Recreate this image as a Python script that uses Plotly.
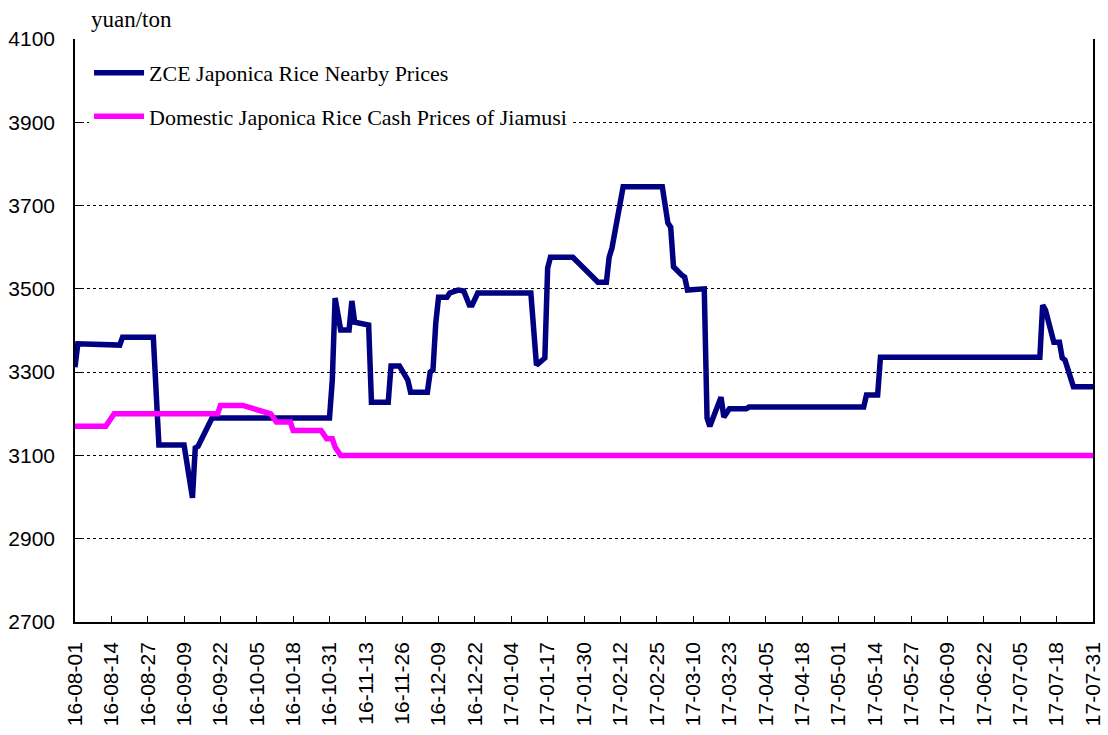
import plotly.graph_objects as go
import pandas as pd

# ZCE Japonica Rice Nearby Prices (yuan/ton)
zce_dates = [
    "2016-08-01", "2016-08-02", "2016-08-17", "2016-08-18", "2016-08-29", "2016-08-31",
    "2016-09-09", "2016-09-12", "2016-09-13", "2016-09-14", "2016-09-19", "2016-10-31",
    "2016-11-01", "2016-11-02", "2016-11-04", "2016-11-07", "2016-11-08", "2016-11-09",
    "2016-11-14", "2016-11-15", "2016-11-21", "2016-11-22", "2016-11-25", "2016-11-28",
    "2016-11-29", "2016-12-05", "2016-12-06", "2016-12-07", "2016-12-08", "2016-12-09",
    "2016-12-12", "2016-12-13", "2016-12-16", "2016-12-18", "2016-12-20", "2016-12-21",
    "2016-12-23", "2017-01-11", "2017-01-13", "2017-01-16", "2017-01-17", "2017-01-18",
    "2017-01-26", "2017-02-04", "2017-02-07", "2017-02-08", "2017-02-09", "2017-02-13",
    "2017-02-27", "2017-03-01", "2017-03-02", "2017-03-03", "2017-03-06", "2017-03-07",
    "2017-03-08", "2017-03-14", "2017-03-15", "2017-03-16", "2017-03-20", "2017-03-21",
    "2017-03-23", "2017-03-29", "2017-03-30", "2017-05-10", "2017-05-11", "2017-05-15",
    "2017-05-16", "2017-07-12", "2017-07-13", "2017-07-14", "2017-07-17", "2017-07-19",
    "2017-07-20", "2017-07-21", "2017-07-24", "2017-07-31",
]
zce_values = [
    3312, 3368, 3365, 3384, 3384, 3125,
    3125, 2998, 3118, 3122, 3190, 3190,
    3281, 3478, 3401, 3401, 3471, 3420,
    3413, 3228, 3228, 3315, 3315, 3281,
    3252, 3252, 3300, 3305, 3418, 3480,
    3480, 3490, 3497, 3495, 3461, 3461,
    3490, 3490, 3317, 3334, 3550, 3576,
    3576, 3516, 3516, 3576, 3598, 3745,
    3745, 3658, 3648, 3553, 3533, 3528,
    3497, 3500, 3190, 3170, 3240, 3192,
    3212, 3212, 3216, 3216, 3245, 3245,
    3336, 3336, 3461, 3449, 3372, 3372,
    3334, 3329, 3265, 3265,
]

# Domestic Japonica Rice Cash Prices of Jiamusi (yuan/ton)
cash_dates = [
    "2016-08-01", "2016-08-12", "2016-08-15", "2016-09-21", "2016-09-22", "2016-09-30",
    "2016-10-10", "2016-10-12", "2016-10-17", "2016-10-18", "2016-10-28", "2016-10-30",
    "2016-11-01", "2016-11-02", "2016-11-04", "2017-07-31",
]
cash_values = [
    3170, 3170, 3200, 3200, 3220, 3220,
    3200, 3180, 3180, 3160, 3160, 3140,
    3140, 3120, 3100, 3100,
]

series_names = [
    "ZCE Japonica Rice Nearby Prices",
    "Domestic Japonica Rice Cash Prices of Jiamusi",
]

tick_dates = pd.date_range("2016-08-01", "2017-07-31", freq="13D")
tick_labels = [d.strftime("%y-%m-%d") for d in tick_dates]
y_ticks = [2700, 2900, 3100, 3300, 3500, 3700, 3900, 4100]

fig = go.Figure()
fig.add_trace(go.Scatter(
    x=zce_dates, y=zce_values, mode="lines", name=series_names[0],
    legendgroup="a", line=dict(color="#000080", width=5.5),
))
fig.add_trace(go.Scatter(
    x=cash_dates, y=cash_values, mode="lines", name=series_names[1],
    legendgroup="b", line=dict(color="#FF00FF", width=5.5),
))

fig.update_layout(
    width=1108, height=735,
    margin=dict(l=75, r=15, t=39, b=113),
    paper_bgcolor="white", plot_bgcolor="white",
    showlegend=True,
    legend=dict(
        x=0.0138, y=0.978, xanchor="left", yanchor="top",
        bgcolor="white", borderwidth=0,
        font=dict(family="Liberation Serif", size=22, color="black"),
        itemwidth=50, traceorder="grouped", tracegroupgap=12,
    ),
    annotations=[dict(
        text="yuan/ton", xref="paper", yref="paper",
        x=(89 - 75) / 1018, y=1 + (39 - 19) / 583,
        xanchor="left", yanchor="middle", showarrow=False,
        font=dict(family="Liberation Serif", size=23, color="black"),
    )],
)

fig.update_xaxes(
    range=["2016-08-01", "2017-07-31"],
    tickmode="array", tickvals=tick_dates, ticktext=tick_labels,
    tickangle=-90, ticks="inside", ticklen=6, tickcolor="black",
    tickfont=dict(family="Liberation Sans", size=21, color="black"),
    showline=True, linecolor="black", linewidth=1.5,
    showgrid=False, zeroline=False, automargin=False,
    ticklabelstandoff=10,
)
fig.update_yaxes(
    range=[2700, 4100],
    tickmode="array", tickvals=y_ticks,
    ticks="inside", ticklen=6, tickcolor="black",
    tickfont=dict(family="Liberation Sans", size=21, color="black"),
    showline=True, linecolor="black", linewidth=1.5, mirror=True,
    showgrid=True, gridcolor="black", gridwidth=1, griddash="dot",
    zeroline=False, automargin=False,
    ticklabelstandoff=14,
)

fig.write_html(
    "out.html",
    config={"displayModeBar": False},
    post_script="document.body.style.margin='0';",
)
